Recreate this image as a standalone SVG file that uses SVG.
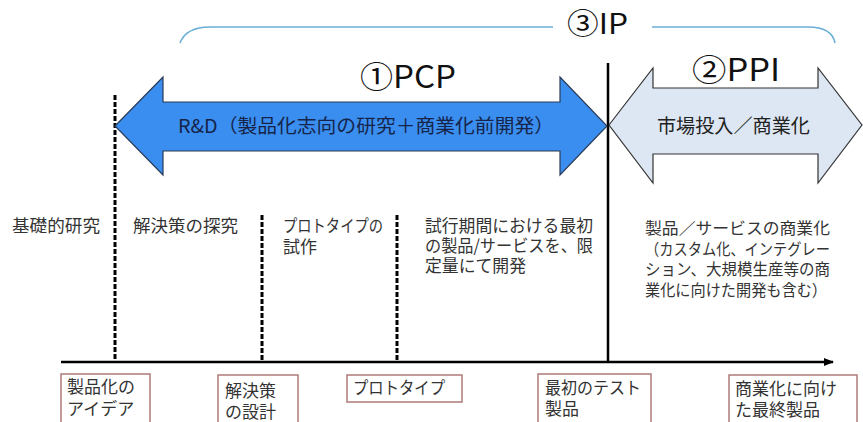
<svg xmlns="http://www.w3.org/2000/svg" width="863" height="422" viewBox="0 0 863 422">
<defs>
<style>
.t{font-family:"Noto Sans CJK JP","Noto Sans",sans-serif;fill:#333333;font-size:17px}
.h{font-family:"Noto Sans CJK JP","Noto Sans",sans-serif;fill:#111111;font-size:31px}
.dash{stroke:#000;stroke-width:3;stroke-dasharray:5 2;fill:none}
.box{fill:#ffffff;stroke:#b07a7a;stroke-width:1.5}
</style>
<marker id="ah" markerWidth="10" markerHeight="8" refX="9" refY="4" orient="auto" markerUnits="userSpaceOnUse">
<path d="M0,0 L10,4 L0,8 z" fill="#000"/>
</marker>
</defs>
<rect width="863" height="422" fill="#ffffff"/>

<g id="ip-bracket">
<path d="M180,43 Q186,27 210,27 L553,27" fill="none" stroke="#6aaed6" stroke-width="1.6"/>
<path d="M652,27 L808,27 Q832,27 835,43" fill="none" stroke="#6aaed6" stroke-width="1.6"/>
<text class="h" x="567" y="34" style="font-size:28px" textLength="61" lengthAdjust="spacingAndGlyphs">③IP</text>
</g>

<g id="connectors">
<line x1="61" y1="362" x2="833" y2="362" stroke="#000" stroke-width="2.5" marker-end="url(#ah)"/>
<line class="dash" x1="115" y1="95" x2="115" y2="362"/>
<line class="dash" x1="262" y1="215" x2="262" y2="362"/>
<line class="dash" x1="397" y1="215" x2="397" y2="362"/>
<line x1="608" y1="63" x2="608" y2="362" stroke="#000" stroke-width="2.5"/>
</g>

<g id="pcp">
<polygon points="115,126 163,77 163,102 560,102 560,77 607,126 560,175 560,151 163,151 163,175" fill="#3a8ef0" stroke="#2b3a55" stroke-width="1.2"/>
<text class="t" x="178" y="133" style="fill:#16244a;font-size:19px" textLength="376" lengthAdjust="spacingAndGlyphs">R&amp;D（製品化志向の研究＋商業化前開発）</text>
<text class="h" x="360" y="88" textLength="96" lengthAdjust="spacingAndGlyphs">①PCP</text>
</g>

<g id="ppi">
<polygon points="609,125 653,68 653,88 818,88 818,68 862,125 818,183 818,154 653,154 653,183" fill="#dde7f3" stroke="#333" stroke-width="1.2"/>
<text class="t" x="657" y="133" style="fill:#222;font-size:19px" textLength="153" lengthAdjust="spacingAndGlyphs">市場投入／商業化</text>
<text class="h" x="692" y="81" textLength="88" lengthAdjust="spacingAndGlyphs">②PPI</text>
</g>

<g id="phases">
<text class="t" x="12" y="232" textLength="88" lengthAdjust="spacingAndGlyphs">基礎的研究</text>
<text class="t" x="133" y="232" textLength="105" lengthAdjust="spacingAndGlyphs">解決策の探究</text>
<text class="t"><tspan x="283" y="232" textLength="100" lengthAdjust="spacingAndGlyphs">プロトタイプの</tspan><tspan x="283" y="253">試作</tspan></text>
<text class="t"><tspan x="425" y="232" textLength="168" lengthAdjust="spacingAndGlyphs">試行期間における最初</tspan><tspan x="425" y="252" textLength="168" lengthAdjust="spacingAndGlyphs">の製品/サービスを、限</tspan><tspan x="425" y="272" textLength="101" lengthAdjust="spacingAndGlyphs">定量にて開発</tspan></text>
<text class="t" style="font-size:16px"><tspan x="645" y="234" textLength="185" lengthAdjust="spacingAndGlyphs">製品／サービスの商業化</tspan><tspan x="645" y="255" textLength="185" lengthAdjust="spacingAndGlyphs">（カスタム化、インテグレー</tspan><tspan x="645" y="275" textLength="185" lengthAdjust="spacingAndGlyphs">ション、大規模生産等の商</tspan><tspan x="645" y="296" textLength="182" lengthAdjust="spacingAndGlyphs">業化に向けた開発も含む）</tspan></text>
</g>

<g id="milestone-1">
<rect class="box" x="61" y="374" width="89" height="52"/>
<text class="t"><tspan x="67" y="393">製品化の</tspan><tspan x="67" y="415">アイデア</tspan></text>
</g>
<g id="milestone-2">
<rect class="box" x="218" y="375" width="80" height="52"/>
<text class="t"><tspan x="225" y="397">解決策</tspan><tspan x="225" y="418">の設計</tspan></text>
</g>
<g id="milestone-3">
<rect class="box" x="347" y="375" width="115" height="27"/>
<text class="t" x="353" y="394" textLength="92" lengthAdjust="spacingAndGlyphs">プロトタイプ</text>
</g>
<g id="milestone-4">
<rect class="box" x="538" y="374" width="113" height="52"/>
<text class="t"><tspan x="545" y="394" textLength="96" lengthAdjust="spacingAndGlyphs">最初のテスト</tspan><tspan x="545" y="415">製品</tspan></text>
</g>
<g id="milestone-5">
<rect class="box" x="729" y="375" width="128" height="52"/>
<text class="t"><tspan x="735" y="395" textLength="102" lengthAdjust="spacingAndGlyphs">商業化に向け</tspan><tspan x="735" y="416" textLength="85" lengthAdjust="spacingAndGlyphs">た最終製品</tspan></text>
</g>
</svg>
